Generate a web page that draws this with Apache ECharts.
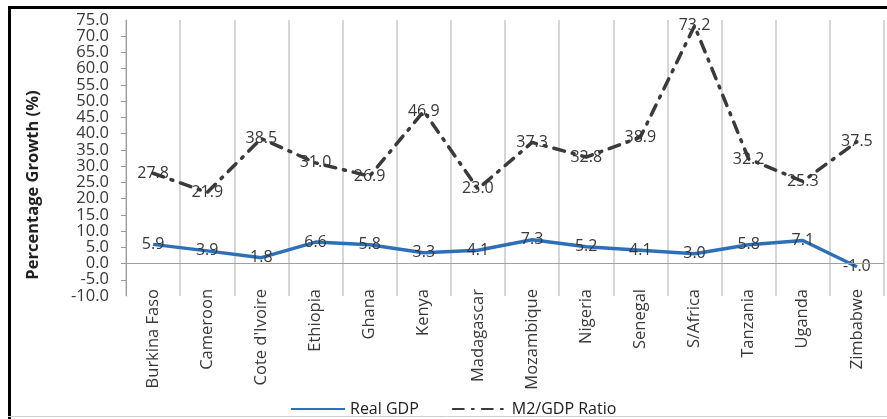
<!DOCTYPE html>
<html>
<head>
<meta charset="utf-8">
<script src="https://cdn.jsdelivr.net/npm/echarts@6/dist/echarts.min.js"></script>
<style>
  html, body { margin: 0; padding: 0; background: #fff; }
  #chart { width: 887px; height: 419px; }
</style>
</head>
<body>
<div id="chart"></div>
<script>
// Countries along the category axis
const countries = ['Burkina Faso', 'Cameroon', "Cote d'Ivoire", 'Ethiopia', 'Ghana', 'Kenya',
  'Madagascar', 'Mozambique', 'Nigeria', 'Senegal', 'S/Africa', 'Tanzania', 'Uganda', 'Zimbabwe'];
// Real GDP growth (%)
const realGdp = [5.9, 3.9, 1.8, 6.6, 5.8, 3.3, 4.1, 7.3, 5.2, 4.1, 3.0, 5.8, 7.1, -1.0];
// M2 to GDP ratio (%)
const m2GdpRatio = [27.8, 21.9, 38.5, 31.0, 26.9, 46.9, 23.0, 37.3, 32.8, 38.9, 73.2, 32.2, 25.3, 37.5];
// Value axis range and step
const yMin = -10, yMax = 75, yStep = 5;

const font = '"Open Sans", "Liberation Sans", sans-serif';
const textColor = '#383838';

const valueLabel = {
  show: true,
  position: 'inside',
  fontSize: 16,
  color: textColor,
  fontFamily: font,
  formatter: p => p.value.toFixed(1)
};

const tickLabel = {
  margin: 17,
  fontSize: 16.5,
  color: textColor,
  fontFamily: font,
  formatter: v => v.toFixed(1)
};

const chart = echarts.init(document.getElementById('chart'));
chart.setOption({
  animation: false,
  backgroundColor: '#fff',
  textStyle: { fontFamily: font },
  grid: { left: 126, right: 3, top: 20, bottom: 123, containLabel: false },
  legend: {
    top: 396,
    left: 285,
    itemWidth: 54,
    itemHeight: 18,
    itemGap: 33,
    itemStyle: { opacity: 0 },
    textStyle: { fontSize: 16, color: '#202020', fontFamily: font },
    data: ['Real GDP', 'M2/GDP Ratio']
  },
  xAxis: {
    type: 'category',
    data: countries,
    boundaryGap: true,
    axisLine: { show: false, onZero: false },
    axisTick: { show: false },
    axisLabel: { rotate: 90, fontSize: 16.5, color: textColor, margin: -7, interval: 0, fontFamily: font },
    splitLine: { show: true, lineStyle: { color: '#c8c8c8', width: 1.5 } }
  },
  yAxis: [
    {
      // main value axis: line, ticks and the inner labels
      type: 'value',
      min: yMin,
      max: yMax,
      interval: yStep,
      axisLine: { show: true, lineStyle: { color: '#9a9a9a' } },
      axisTick: { show: true, inside: false, length: 5, lineStyle: { color: '#9a9a9a' } },
      axisLabel: Object.assign({ showMinLabel: false, showMaxLabel: false }, tickLabel),
      splitLine: { show: false }
    },
    {
      // companion axis carrying only the end labels (min and max)
      type: 'value',
      position: 'left',
      min: yMin,
      max: yMax,
      interval: yMax - yMin,
      axisLine: { show: false },
      axisTick: { show: false },
      axisLabel: Object.assign({ showMinLabel: true, showMaxLabel: true }, tickLabel),
      splitLine: { show: false }
    }
  ],
  graphic: [
    { type: 'line', shape: { x1: 8, y1: 7.5, x2: 887, y2: 7.5 }, style: { stroke: '#000', lineWidth: 3 } },
    { type: 'line', shape: { x1: 9.5, y1: 6, x2: 9.5, y2: 419 }, style: { stroke: '#000', lineWidth: 3 } },
    { type: 'line', shape: { x1: 8, y1: 416.5, x2: 887, y2: 416.5 }, style: { stroke: '#d0d0d0', lineWidth: 1 } },
    {
      type: 'text',
      x: 33, y: 185,
      rotation: Math.PI / 2,
      style: {
        text: 'Percentage Growth (%)',
        font: 'bold 16.5px ' + font,
        fill: '#202020',
        align: 'center',
        verticalAlign: 'middle'
      }
    }
  ],
  series: [
    {
      name: 'Real GDP',
      type: 'line',
      yAxisIndex: 0,
      data: realGdp,
      symbol: 'circle',
      symbolSize: 0.1,
      showSymbol: true,
      lineStyle: { color: '#2E6FBA', width: 3.5 },
      itemStyle: { color: '#2E6FBA' },
      z: 3,
      label: valueLabel,
      markLine: {
        silent: true,
        symbol: 'none',
        label: { show: false },
        lineStyle: { color: '#a0a0a0', type: 'solid', width: 1 },
        data: [{ yAxis: 0 }]
      }
    },
    {
      name: 'M2/GDP Ratio',
      type: 'line',
      yAxisIndex: 0,
      data: m2GdpRatio,
      symbol: 'circle',
      symbolSize: 0.1,
      showSymbol: true,
      lineStyle: { color: '#3a3a3a', width: 3.5, type: [11, 8, 2, 8], cap: 'round' },
      itemStyle: { color: '#3a3a3a' },
      z: 2,
      label: valueLabel
    }
  ]
});
</script>
</body>
</html>
